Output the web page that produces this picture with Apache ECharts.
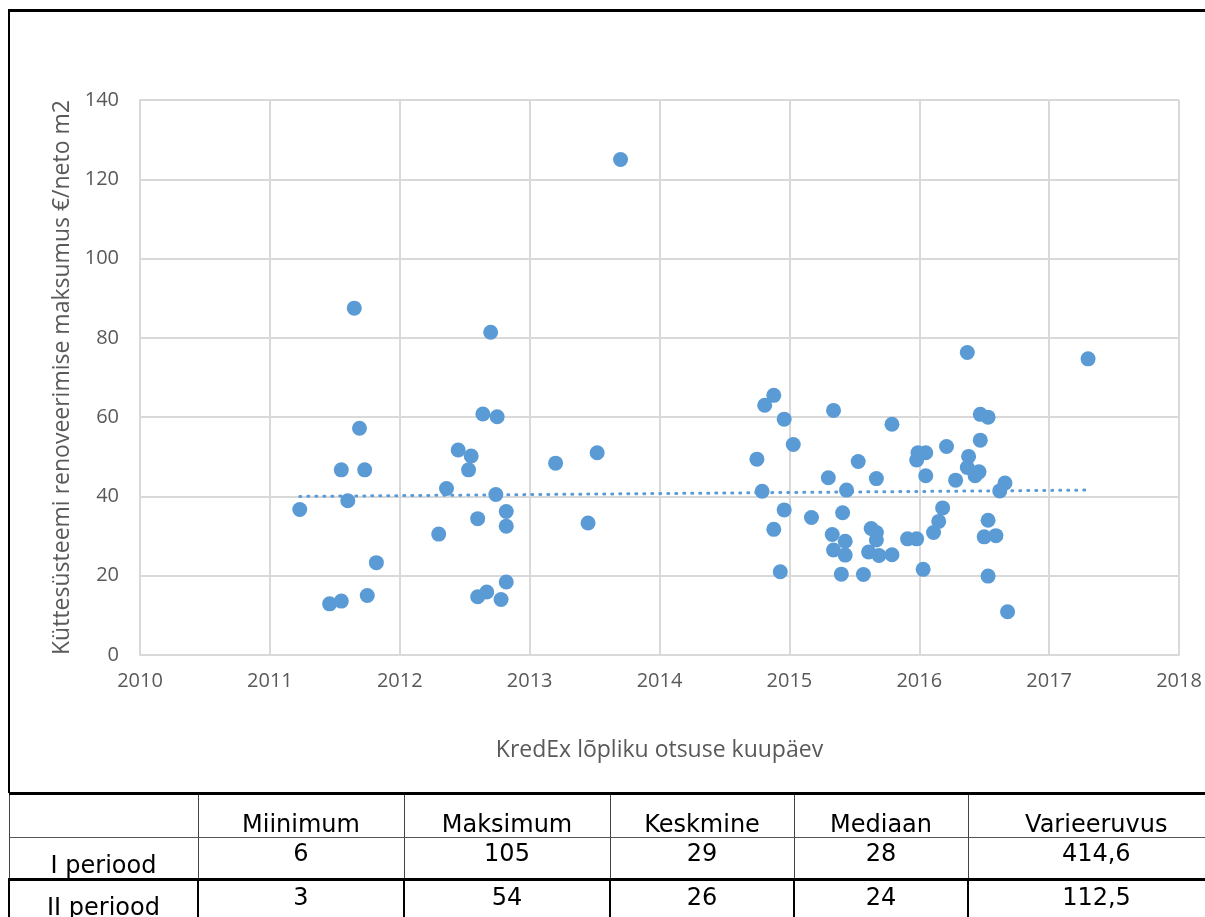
<!DOCTYPE html>
<html>
<head>
    <meta charset="utf-8">
    <title>Küttesüsteemi renoveerimise maksumus</title>
    <script src="https://cdn.jsdelivr.net/npm/echarts@6/dist/echarts.min.js"></script>
    <style>
        body { margin: 0; width: 1205px; height: 917px; overflow: hidden; background: #fff; }
        #frame { position: absolute; left: 8px; top: 9px; width: 1200px; height: 784px;
                 border-top: 3px solid #000; border-left: 2px solid #000; box-sizing: border-box; }
        #chart { position: absolute; left: 0; top: 0; width: 1205px; height: 793px; }
        #stats { position: absolute; left: 8px; top: 792px; width: 1215px; border-collapse: collapse; table-layout: fixed;
                 font-family: "DejaVu Sans", Verdana, sans-serif; font-size: 24px; color: #000; }
        #stats td { text-align: center; padding: 0; line-height: 24px; overflow: hidden; box-sizing: border-box;
                 white-space: nowrap; }
        #stats tr.head td { height: 44px; vertical-align: bottom; padding-bottom: 1px;
                 border-top: 3px solid #000; border-left: 1px solid #444; border-bottom: 1px solid #555; }
        #stats tr.r1 td { height: 42px; vertical-align: top; padding-top: 3px; border-left: 1px solid #444; }
        #stats tr.r1 td.lbl { vertical-align: bottom; padding-top: 0; padding-bottom: 1px; }
        #stats tr.r2 td { height: 50px; vertical-align: top; padding-top: 4px;
                 border-top: 3px solid #000; border-left: 2px solid #000; }
        #stats tr.r2 td.lbl { padding-top: 14px; }
    </style>
</head>
<body>
    <div id="frame"></div>
    <div id="chart"></div>
    <table id="stats">
        <colgroup>
            <col style="width:189px"><col style="width:206px"><col style="width:206px">
            <col style="width:184px"><col style="width:174px"><col style="width:256px">
        </colgroup>
        <tbody id="statsbody"></tbody>
    </table>

    <script type="text/javascript">
        // data points (decimal year, €/m2)
        var xValues = [
            2011.23, 2011.46, 2011.55, 2011.55, 2011.60, 2011.65, 2011.69, 2011.73, 2011.75, 2011.82,
            2012.30, 2012.36, 2012.45, 2012.53, 2012.55, 2012.60, 2012.60, 2012.64, 2012.67, 2012.70,
            2012.74, 2012.75, 2012.78, 2012.82, 2012.82, 2012.82, 2013.20, 2013.45, 2013.52, 2013.70,
            2014.75, 2014.79, 2014.81, 2014.88, 2014.88, 2014.93, 2014.96, 2014.96, 2015.03, 2015.17,
            2015.30, 2015.33, 2015.34, 2015.34, 2015.40, 2015.41, 2015.43, 2015.43, 2015.44, 2015.53,
            2015.57, 2015.61, 2015.63, 2015.67, 2015.67, 2015.67, 2015.69, 2015.79, 2015.79, 2015.91,
            2015.98, 2015.98, 2015.99, 2016.03, 2016.05, 2016.05, 2016.11, 2016.15, 2016.18, 2016.21,
            2016.28, 2016.37, 2016.37, 2016.38, 2016.43, 2016.46, 2016.47, 2016.47, 2016.50, 2016.53,
            2016.53, 2016.53, 2016.59, 2016.62, 2016.66, 2016.68, 2017.30
        ];
        var yValues = [
            36.7, 12.9, 13.6, 46.7, 38.9, 87.5, 57.2, 46.7, 15.0, 23.3,
            30.5, 42.0, 51.7, 46.7, 50.2, 34.4, 14.7, 60.8, 15.9, 81.4,
            40.5, 60.1, 14.0, 36.2, 32.5, 18.4, 48.4, 33.3, 51.0, 125.0,
            49.4, 41.3, 63.0, 65.5, 31.7, 21.0, 59.5, 36.6, 53.1, 34.7,
            44.7, 30.4, 61.7, 26.5, 20.4, 35.9, 28.7, 25.2, 41.6, 48.8,
            20.3, 26.0, 31.9, 44.5, 30.9, 29.0, 25.1, 58.2, 25.3, 29.3,
            29.3, 49.2, 51.0, 21.6, 51.0, 45.2, 30.9, 33.7, 37.1, 52.6,
            44.1, 47.3, 76.3, 50.1, 45.2, 46.2, 60.7, 54.2, 29.8, 60.0,
            34.0, 19.9, 30.1, 41.4, 43.4, 10.9, 74.7
        ];
        // linear trend line ends as drawn in the picture
        var trendX = [2011.23, 2017.30];
        var trendY = [40.0, 41.6];

        var statHeaders = ["", "Miinimum", "Maksimum", "Keskmine", "Mediaan", "Varieeruvus"];
        var statRowNames = ["I periood", "II periood"];
        var statValues = [
            ["6", "105", "29", "28", "414,6"],
            ["3", "54", "26", "24", "112,5"]
        ];

        var tbody = document.getElementById("statsbody");
        var html = '<tr class="head">';
        for (var i = 0; i < statHeaders.length; i++) html += "<td>" + statHeaders[i] + "</td>";
        html += "</tr>";
        for (var r = 0; r < statRowNames.length; r++) {
            html += '<tr class="r' + (r + 1) + '"><td class="lbl">' + statRowNames[r] + "</td>";
            for (var c = 0; c < statValues[r].length; c++) html += "<td>" + statValues[r][c] + "</td>";
            html += "</tr>";
        }
        tbody.innerHTML = html;

        var points = [];
        for (var k = 0; k < xValues.length; k++) points.push([xValues[k], yValues[k]]);
        var trend = [[trendX[0], trendY[0]], [trendX[1], trendY[1]]];

        var labelFont = '"Open Sans", "Noto Sans", sans-serif';
        var myChart = echarts.init(document.getElementById("chart"));
        var option = {
            animation: false,
            grid: { left: 140, right: 26, top: 100, bottom: 138 },
            xAxis: {
                type: 'value', min: 2010, max: 2018, interval: 1,
                name: 'KredEx lõpliku otsuse kuupäev', nameLocation: 'middle', nameGap: 84,
                nameTextStyle: { color: '#595959', fontSize: 23, fontFamily: labelFont },
                axisLine: { show: true, lineStyle: { color: '#d9d9d9', width: 2 } },
                axisTick: { show: false },
                axisLabel: { color: '#595959', fontSize: 20, fontFamily: labelFont, margin: 16,
                             formatter: function (v) { return String(v); } },
                splitLine: { show: true, lineStyle: { color: '#d9d9d9', width: 2 } }
            },
            yAxis: {
                type: 'value', min: 0, max: 140, interval: 20,
                name: 'Küttesüsteemi renoveerimise maksumus €/neto m2', nameLocation: 'middle', nameGap: 66,
                nameTextStyle: { color: '#595959', fontSize: 23, fontFamily: labelFont },
                axisLine: { show: true, lineStyle: { color: '#d9d9d9', width: 2 } },
                axisTick: { show: false },
                axisLabel: { color: '#595959', fontSize: 20, fontFamily: labelFont, margin: 21 },
                splitLine: { show: true, lineStyle: { color: '#d9d9d9', width: 2 } }
            },
            series: [
                {
                    type: 'scatter', data: points, symbolSize: 15,
                    itemStyle: { color: '#5b9bd5', opacity: 1 }
                },
                {
                    type: 'line', data: trend, symbol: 'none', silent: true,
                    lineStyle: { color: '#5b9bd5', width: 3, type: [1, 7], cap: 'round' }
                }
            ]
        };
        myChart.setOption(option);
    </script>
</body>
</html>
